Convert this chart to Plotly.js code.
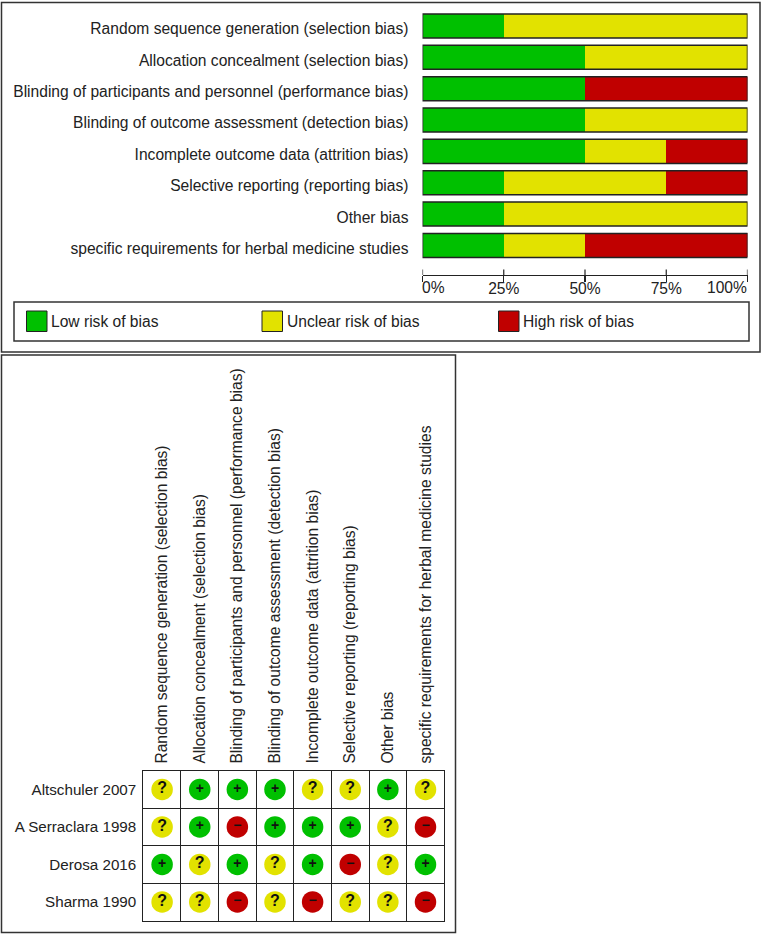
<!DOCTYPE html>
<html>
<head>
<meta charset="utf-8">
<script src="https://cdn.plot.ly/plotly-3.0.1.min.js"></script>
<style>html,body{margin:0;padding:0;background:#fff}#chart{width:762px;height:934px}</style>
</head>
<body>
<div id="chart"></div>
<script>
const domains = [
  "Random sequence generation (selection bias)",
  "Allocation concealment (selection bias)",
  "Blinding of participants and personnel (performance bias)",
  "Blinding of outcome assessment (detection bias)",
  "Incomplete outcome data (attrition bias)",
  "Selective reporting (reporting bias)",
  "Other bias",
  "specific requirements for herbal medicine studies"
];
const lowPct     = [25, 50, 50, 50, 50, 25, 25, 25];
const unclearPct = [75, 50,  0, 50, 25, 50, 75, 25];
const highPct    = [ 0,  0, 50,  0, 25, 25,  0, 50];
const pctTicks = [0, 25, 50, 75, 100];
const pctLabels = ["0%", "25%", "50%", "75%", "100%"];

const studies = ["Altschuler 2007", "A Serraclara 1998", "Derosa 2016", "Sharma 1990"];
const altschuler = ["?", "+", "+", "+", "?", "?", "+", "?"];
const serraclara = ["?", "+", "-", "+", "+", "+", "?", "-"];
const derosa     = ["+", "?", "+", "?", "+", "-", "?", "+"];
const sharma     = ["?", "?", "-", "?", "-", "?", "?", "-"];
const judgements = [altschuler, serraclara, derosa, sharma];

const legendLabels = ["Low risk of bias", "Unclear risk of bias", "High risk of bias"];
const GREEN = "#00c000", YELLOW = "#e2e200", RED = "#c00000", INK = "#222222";
const colors = [GREEN, YELLOW, RED];
const W = 762, H = 934;
const px = v => v / W, py = v => 1 - v / H;
const FONT = "Liberation Sans, Arial, sans-serif";
const FS = 15.6;

const traces = [];
[[lowPct, GREEN], [unclearPct, YELLOW], [highPct, RED]].forEach(([vals, c], i) => {
  traces.push({type: "bar", orientation: "h", y: domains, x: vals, name: legendLabels[i],
    marker: {color: c, line: {width: 0}}, xaxis: "x", yaxis: "y", hoverinfo: "x+y"});
});

const symbolInfo = [["+", GREEN, "+"], ["?", YELLOW, "?"], ["-", RED, "\u2212"]];
symbolInfo.forEach(([key, c, glyph]) => {
  const xs = [], ys = [];
  judgements.forEach((row, r) => row.forEach((v, d) => {
    if (v === key) { xs.push(domains[d]); ys.push(studies[r]); }
  }));
  traces.push({type: "scatter", mode: "markers+text", x: xs, y: ys, xaxis: "x2", yaxis: "y2",
    marker: {size: 21.5, color: c, line: {width: 0}},
    text: xs.map(() => glyph), textposition: "middle center",
    textfont: {family: FONT, size: key === "?" ? 16 : 14, color: "#111"},
    texttemplate: "<b>%{text}</b>", hoverinfo: "x+y"});
});

const frame = (x0, y0, x1, y1, w, col) => ({type: "rect", xref: "paper", yref: "paper",
  x0: px(x0), x1: px(x1), y0: py(y0), y1: py(y1), line: {color: col || "#333", width: w || 1.5}, layer: "below"});

const shapes = [
  frame(1.5, 2.5, 760, 352, 1.5),
  frame(1.5, 355, 455.5, 932.5, 1.5),
  frame(14, 302, 749, 341, 1.5)
];
domains.forEach((d, i) => shapes.push({type: "rect", xref: "x", yref: "y", x0: 0, x1: 100,
  y0: i - 0.383, y1: i + 0.383, line: {color: INK, width: 1.5}}));
pctTicks.forEach(t => shapes.push({type: "line", xref: "x", yref: "paper", x0: t, x1: t,
  y0: py(269.5), y1: py(275), line: {color: INK, width: 1.2}}));

const annotations = [];
const swatchX = [26.5, 262, 498.5];
legendLabels.forEach((t, i) => {
  shapes.push({type: "rect", xref: "paper", yref: "paper", x0: px(swatchX[i]), x1: px(swatchX[i] + 20.5),
    y0: py(311), y1: py(331.5), fillcolor: colors[i], line: {color: INK, width: 1}});
  annotations.push({xref: "paper", yref: "paper", x: px(swatchX[i] + 22.5), y: py(321.5), text: t,
    showarrow: false, xanchor: "left", yanchor: "middle", font: {family: FONT, size: FS, color: INK}});
});
annotations.push({xref: "x", yref: "paper", x: 0, y: py(287), text: pctLabels[0], showarrow: false,
  xanchor: "left", yanchor: "middle", xshift: -3, font: {family: FONT, size: FS, color: INK}});
annotations.push({xref: "x", yref: "paper", x: 100, y: py(287), text: pctLabels[4], showarrow: false,
  xanchor: "right", yanchor: "middle", xshift: 1, font: {family: FONT, size: FS, color: INK}});

const layout = {
  width: W, height: H, margin: {l: 0, r: 0, t: 0, b: 0, pad: 0},
  paper_bgcolor: "#fff", plot_bgcolor: "rgba(0,0,0,0)", showlegend: false,
  barmode: "stack", bargap: 0.234, font: {family: FONT, size: FS, color: INK},
  xaxis: {domain: [px(422.5), px(747.5)], range: [0, 100], anchor: "free", position: py(275),
    tickvals: pctTicks, ticktext: ["", pctLabels[1], pctLabels[2], pctLabels[3], ""],
    ticks: "outside", ticklen: 5.5, tickwidth: 1.2, tickcolor: INK, showline: true, linecolor: INK, linewidth: 1.2,
    ticklabelstandoff: -6, showgrid: false, zeroline: false, tickangle: 0,
    tickfont: {family: FONT, size: FS, color: INK}, fixedrange: true},
  yaxis: {domain: [py(261.1), py(10.3)], type: "category", autorange: "reversed", anchor: "x",
    categoryorder: "array", categoryarray: domains, showgrid: false, showline: false, zeroline: false, ticks: "",
    ticklabelstandoff: 13, ticklabelshift: -3, tickfont: {family: FONT, size: FS, color: INK}, fixedrange: true},
  xaxis2: {domain: [px(143.3), px(444.3)], type: "category", categoryorder: "array", categoryarray: domains,
    range: [-0.5, 7.5], side: "top", anchor: "y2", tickangle: -90, tickson: "boundaries", ticks: "",
    ticklabelstandoff: 3, ticklabelshift: 0, showgrid: true, gridcolor: INK, gridwidth: 1, showline: true, mirror: true,
    linecolor: INK, linewidth: 1, zeroline: false, tickfont: {family: FONT, size: FS, color: INK}, fixedrange: true},
  yaxis2: {domain: [py(920.7), py(770.7)], type: "category", categoryorder: "array", categoryarray: studies,
    range: [3.5, -0.5], anchor: "x2", tickson: "boundaries", ticks: "", ticklabelstandoff: 3,
    showgrid: true, gridcolor: INK, gridwidth: 1, showline: true, mirror: true,
    linecolor: INK, linewidth: 1, zeroline: false, tickfont: {family: FONT, size: 15.2, color: INK}, fixedrange: true},
  shapes, annotations
};
Plotly.newPlot("chart", traces, layout, {displayModeBar: false, staticPlot: true});
</script>
</body>
</html>
